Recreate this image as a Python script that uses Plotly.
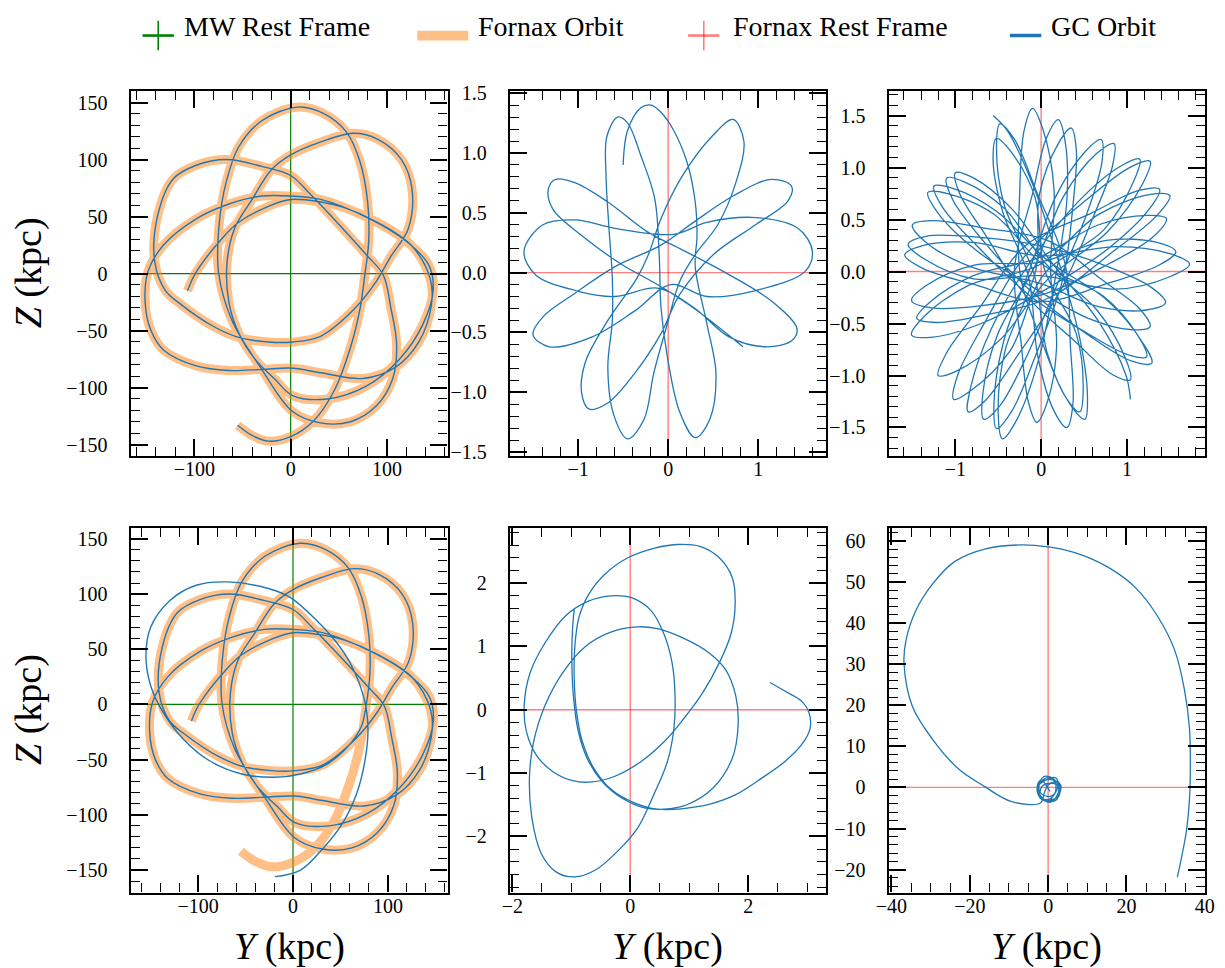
import plotly.graph_objects as go

# ---------------- data ----------------
# Fornax orbit in the MW rest frame (Y, Z) [kpc], traced end to end
FORNAX_Y = [-55, -40, -23, 0, 24, 45, 62, 72, 77, 81, 80, 72, 58, 35, 8,
            -30, -54, -67, -74, -75, -61, -30, 2, 31, 62, 89, 106, 110, 104,
            96, 79, 48, 20, 0, -30, -67, -98, -122, -138, -141,
            -130, -114, -81, -54, -23, 2, 31, 65, 88, 104, 122, 126, 115, 90, 65, 30, 0, -20, -40, -58, -66,
            -64, -54, -37, -16, 2, 38, 78, 112, 137, 148,
            143, 119, 82, 31, 0, -30, -64, -98, -132, -148, -151, -145, -132, -98, -64, -30, 2, 31, 75, 109,
            133, 146,
            145, 125, 90, 55, 30, 0, -23, -54, -71, -99, -107]
FORNAX_Z = [-133, -142, -147, -143, -129, -103, -65, -31, -1, 28, 62, 98, 124, 140, 146,
            134, 111, 80, 45, 2, -41, -84, -121, -131, -130, -116, -92, -62, -30,
            -1, 16, 45, 70, 86, 94, 100, 95, 83, 51, 10,
            -15, -27, -46, -56, -60, -60, -55, -32, -8, 15, 39, 74, 100, 118, 123, 115, 104, 91, 65, 40, 10,
            -26, -52, -75, -93, -107, -110, -99, -76, -45, -14,
            8, 29, 48, 65, 68, 68, 61, 48, 25, 2, -26, -50, -67, -81, -85, -84, -83, -87, -92, -82,
            -60, -28,
            -5, 25, 45, 58, 63, 65, 59, 45, 31, 0, -15]

# GC orbit (top row, MW frame) follows the Fornax orbit
GC1_Y = list(FORNAX_Y)
GC1_Z = list(FORNAX_Z)

# GC orbit (bottom row, MW frame): early part deviates, then follows Fornax
GC2_EARLY_Y = [-19, 8, 30, 52, 67, 76, 79, 75, 60, 45, 25, -3, -26, -68, -102, -130, -150, -155, -150, -137,
               -116, -88, -54, -19, 8, 36, 58, 72]
GC2_EARLY_Z = [-156, -150, -132, -108, -81, -50, -22, 5, 38, 57, 76, 97, 105, 111, 108, 94, 70, 44, 17, -7,
               -31, -51, -63, -66, -63, -54, -38, -20]
GC2_Y = GC2_EARLY_Y + FORNAX_Y[8:]
GC2_Z = GC2_EARLY_Z + FORNAX_Z[8:]

# GC orbit in the Fornax rest frame, top row middle (Y, Z) [kpc]
GCF1_Y = [-0.50, -0.45, -0.30, -0.19, -0.08, 0.06, 0.21, 0.30, 0.32, 0.30, 0.43, 0.53, 0.46, 0.30, 0.13,
          -0.01, -0.08, -0.10, -0.15, -0.30, -0.45, -0.56, -0.68, -0.69, -0.66, -0.62, -0.62, -0.67, -0.60,
          -0.45, -0.27, -0.16, -0.01, 0.13, 0.30, 0.55, 0.75, 0.84, 0.72, 0.50, 0.15, -0.08, -0.22,
          -0.35, -0.67, -0.92, -0.96, -0.88, -0.67, -0.37, -0.08, 0.13,
          0.50, 0.97, 1.33, 1.37, 1.15, 0.72, 0.28, -0.08,
          -0.59, -1.03, -1.39, -1.50, -1.32, -0.85, -0.37, 0.03,
          0.43, 0.97, 1.52, 1.60, 1.44, 0.97, 0.43, 0.06,
          -0.59, -1.03, -1.39, -1.60, -1.47, -1.03, -0.59, -0.12,
          0.28, 0.68, 1.08, 1.37, 1.43, 1.15, 0.61, 0.13,
          -0.23, -0.67, -1.03, -1.25, -1.33, -1.28, -0.96, -0.52, -0.12,
          0.25, 0.55, 0.83]
GCF1_Z = [0.90, 1.19, 1.38, 1.40, 1.34, 1.19, 0.92, 0.59, 0.31, 0.05, -0.43, -0.84, -1.23, -1.38, -1.17,
          -0.70, -0.29, 0.15, 0.62, 0.97, 1.25, 1.30, 1.14, 0.81, 0.40, -0.05, -0.40, -0.80, -1.20,
          -1.39, -1.23, -0.84, -0.43, -0.07, 0.15, 0.40, 0.75, 1.10, 1.28, 1.15, 0.80, 0.45, 0.15,
          -0.05, -0.40, -0.75, -1.01, -1.14, -1.09, -0.84, -0.51, -0.18,
          0.15, 0.40, 0.60, 0.72, 0.78, 0.64, 0.42, 0.23,
          0.05, -0.17, -0.37, -0.52, -0.62, -0.54, -0.32, -0.10,
          -0.20, -0.15, 0.01, 0.18, 0.37, 0.46, 0.42, 0.32,
          0.37, 0.44, 0.40, 0.18, -0.02, -0.15, -0.20, -0.13,
          -0.29, -0.54, -0.62, -0.57, -0.47, -0.24, 0.01, 0.20,
          0.34, 0.59, 0.75, 0.78, 0.70, 0.53, 0.31, 0.07, -0.10,
          -0.28, -0.45, -0.62]

# GC orbit in the Fornax rest frame, top row right (Y, Z) [kpc]
GCF2_Y = [-0.56,
          -0.39, -0.09, 0.21, 0.45, 0.54, 0.51,
          0.34, 0.07, -0.08, -0.43, -0.52, -0.48,
          -0.31, -0.05, 0.28, 0.34, 0.37, 0.30,
          0.15, -0.04, -0.15, -0.45, -0.56, -0.52,
          -0.35, -0.07, 0.04, 0.41, 0.49, 0.45,
          0.28, 0.03, -0.24, -0.25, -0.20, -0.10,
          0.02, 0.15, 0.11, 0.18, 0.07, -0.05,
          -0.15, -0.23, -0.31, -0.10, 0.06, 0.20,
          0.28, 0.30, 0.17, -0.03, -0.28, -0.45,
          -0.50, -0.42, -0.06, -0.02, 0.20, 0.35,
          0.41, 0.37, 0.25, -0.07, -0.34, -0.52,
          -0.55, -0.44, -0.12, 0.17, 0.51, 0.70,
          0.71, 0.53, 0.20, -0.16, -0.48, -0.67,
          -0.68, -0.51, -0.08, 0.26, 0.64, 0.85,
          0.83, 0.60, 0.24, -0.26, -0.65, -0.85,
          -0.82, -0.58, -0.12, 0.43, 0.92, 1.15,
          1.08, 0.73, 0.03, -0.36, -0.81, -1.02,
          -0.97, -0.65, -0.17, 0.50, 1.03, 1.27,
          1.18, 0.77, 0.07, -0.47, -0.97, -1.20,
          -1.10, -0.71, -0.18, 0.58, 1.14, 1.38,
          1.25, 0.78, 0.08, -0.67, -1.26, -1.51,
          -1.36, -0.84, -0.03, 0.67, 1.26, 1.50,
          1.35, 0.82, 0.10, -0.66, -1.22, -1.45,
          -1.29, -0.79, -0.04, 0.67, 1.24, 1.46,
          1.30, 0.78, 0.06, -0.71, -1.28, -1.51,
          -1.33, -0.79, -0.01, 0.76, 1.35, 1.57,
          1.37, 0.79, 0.00, -0.80, -1.38, -1.59,
          -1.38, -0.79, 0.00, 0.88, 1.51, 1.73,
          1.50, 0.86, 0.00, -0.79, -1.36, -1.55,
          -1.33, -0.74, 0.04, 0.77, 1.28, 1.45,
          1.23, 0.68, -0.03, -0.80, -1.34, -1.50,
          -1.27, -0.68, 0.10, 0.71, 1.15, 1.27,
          1.06, 0.55, -0.08, -0.75, -1.20, -1.32,
          -1.09, -0.55, 0.03, 0.73, 1.13, 1.23,
          1.01, 0.51, -0.15, -0.74, -1.15, -1.25,
          -1.03, -0.52, 0.07, 0.76, 1.18, 1.29,
          1.05, 0.53, -0.13, -0.67, -1.03, -1.10,
          -0.89, -0.42, 0.06, 0.65, 0.98, 1.04,
          0.83, 0.38, -0.20, -0.64, -0.95, -1.00,
          -0.79, -0.35, 0.11, 0.67, 0.99, 1.04]
GCF2_Z = [1.50,
          1.35, 0.82, 0.08, -0.64, -1.20, -1.42,
          -1.28, -0.78, -0.03, 0.64, 1.20, 1.42,
          1.27, 0.76, 0.07, -0.70, -1.28, -1.50,
          -1.34, -0.81, -0.04, 0.58, 1.08, 1.28,
          1.15, 0.71, 0.02, -0.60, -1.14, -1.35,
          -1.20, -0.72, -0.05, 0.75, 1.35, 1.57,
          1.37, 0.79, 0.00, -0.73, -1.26, -1.45,
          -1.25, -0.71, 0.03, 0.75, 1.28, 1.46,
          1.25, 0.69, -0.04, -0.85, -1.42, -1.61,
          -1.37, -0.76, 0.02, 0.74, 1.23, 1.38,
          1.17, 0.63, -0.08, -0.82, -1.34, -1.51,
          -1.27, -0.68, 0.05, 0.72, 1.15, 1.27,
          1.06, 0.55, -0.10, -0.80, -1.29, -1.42,
          -1.18, -0.61, 0.04, 0.72, 1.13, 1.23,
          1.01, 0.51, -0.16, -0.79, -1.24, -1.35,
          -1.11, -0.55, 0.10, 0.67, 1.01, 1.08,
          0.87, 0.40, -0.03, -0.76, -1.14, -1.23,
          -0.99, -0.48, 0.17, 0.67, 1.00, 1.06,
          0.84, 0.38, -0.08, -0.65, -0.95, -1.00,
          -0.78, -0.34, 0.25, 0.56, 0.78, 0.79,
          0.59, 0.22, -0.16, -0.49, -0.63, -0.61,
          -0.43, -0.13, 0.06, 0.55, 0.74, 0.73,
          0.54, 0.18, -0.25, -0.42, -0.49, -0.45,
          -0.29, -0.04, 0.13, 0.45, 0.54, 0.51,
          0.33, 0.07, -0.21, -0.33, -0.35, -0.28,
          -0.13, 0.06, 0.09, 0.30, 0.28, 0.19,
          0.06, -0.11, -0.29, -0.12, 0.03, 0.16,
          0.25, 0.28, 0.15, 0.24, 0.17, 0.07,
          -0.05, -0.17, -0.04, -0.07, 0.12, 0.26,
          0.34, 0.33, 0.24, 0.05, -0.15, -0.30,
          -0.37, -0.34, -0.11, 0.04, 0.28, 0.45,
          0.49, 0.42, 0.29, -0.08, -0.36, -0.53,
          -0.56, -0.45, -0.16, 0.20, 0.56, 0.76,
          0.75, 0.55, 0.06, -0.24, -0.62, -0.82,
          -0.80, -0.58, -0.22, 0.24, 0.62, 0.82,
          0.80, 0.58, 0.11, -0.27, -0.68, -0.88,
          -0.86, -0.60, -0.18, 0.29, 0.69, 0.90,
          0.86, 0.60, 0.07, -0.37, -0.83, -1.04,
          -0.99, -0.66, -0.21, 0.34, 0.75, 0.95,
          0.90, 0.61, 0.10, -0.48, -1.00, -1.23]

# GC orbit in the Fornax rest frame, bottom row middle (Y, Z) [kpc]
GCF3_Y = [-0.95, -0.98, -0.99, -0.96, -0.88, -0.73, -0.48, -0.15, 0.24, 0.57, 0.96, 1.40, 1.73, 1.83,
          1.79, 1.62, 1.35, 0.90, 0.46, 0.13, -0.32, -0.76, -1.15, -1.45, -1.64, -1.71, -1.67, -1.51,
          -1.26, -0.95, -0.59, -0.20, 0.13, 0.40, 0.63, 0.74, 0.76, 0.71, 0.57, 0.35, 0.02, -0.32,
          -0.70, -1.09, -1.45, -1.70, -1.80, -1.76, -1.59, -1.31, -0.98, -0.65, -0.26, 0.18, 0.57,
          0.90, 1.23, 1.51, 1.71, 1.78, 1.73, 1.51, 1.18, 0.79, 0.40, -0.04, -0.43, -0.70, -0.87,
          -0.94, -0.95, -0.91, -0.81, -0.62, -0.32, 0.07, 0.46, 0.90, 1.35, 1.79, 2.23, 2.62, 2.90,
          3.05, 3.03, 2.90, 2.67, 2.37]
GCF3_Z = [1.59, 1.26, 0.74, 0.17, -0.35, -0.77, -1.13, -1.39, -1.55, -1.57, -1.50, -1.24, -0.77, -0.25,
          0.22, 0.63, 0.89, 1.13, 1.28, 1.31, 1.23, 1.00, 0.58, 0.06, -0.51, -1.08, -1.70, -2.27,
          -2.56, -2.64, -2.53, -2.22, -1.86, -1.34, -0.82, -0.30, 0.22, 0.74, 1.20, 1.57, 1.77, 1.80,
          1.72, 1.49, 1.05, 0.58, 0.06, -0.35, -0.72, -0.98, -1.12, -1.14, -1.05, -0.82, -0.51,
          -0.15, 0.27, 0.74, 1.20, 1.67, 2.09, 2.40, 2.58, 2.61, 2.55, 2.40, 2.14, 1.83, 1.46,
          1.00, 0.48, -0.04, -0.51, -0.92, -1.26, -1.47, -1.57, -1.56, -1.49, -1.34, -1.08, -0.82, -0.56,
          -0.30, -0.04, 0.14, 0.27, 0.43]

# GC orbit in the Fornax rest frame, bottom row right (Y, Z) [kpc]
GCF4_Y = [0.5, -1.8, -2.8, -1.2, 1.8, 3.0, 1.2, -1.2, -2.6, -0.4, 2.3, 3.2, 0.8, -2.0, -2.4, 0.6,
          2.6, 2.0, -0.6, -2.8, -1.6, 0.8, 2.4, 1.0, -1.4, -2.0, -0.2, 1.6, 1.8, -0.2, -2.2, -1.8,
          0.2, 2.8, 2.6, 0.0, -1.0, -2.0,
          -9.5, -16.2, -23.0, -29.6, -34.7, -36.8, -36.3, -33.8, -29.6, -23.8, -16.2, -7.0, 0.0, 7.2,
          15.6, 22.3, 28.1, 32.3, 34.8, 36.1, 36.3, 36.1, 35.3, 33.0]
GCF4_Z = [-1.0, 1.8, 0.2, -2.8, -3.2, -0.8, 2.2, 2.6, -0.6, -3.3, -2.4, 0.6, 1.9, 1.2, -2.0, -3.6,
          -1.2, 2.3, 1.8, -0.2, -3.0, -2.6, 0.4, 1.0, 0.4, -1.2, -2.2, -1.6, 1.2, 2.4, 0.8, -2.4,
          -3.0, -2.0, 1.4, 0.6, -1.4, -3.8,
          -3.4, 0.2, 4.6, 11.8, 19.8, 30.2, 35.8, 43.0, 49.4, 55.0, 58.0, 59.0, 58.5, 57.0,
          53.4, 48.6, 41.4, 33.4, 23.8, 14.2, 3.8, -2.6, -10.6, -21.8]

# axis ranges / ticks per panel: (xrange, yrange, xdtick, xminor, ydtick, yminor, yfmt)
PANELS = [
    ([-166, 163], [-160, 160], 100, 20, 50, 10, None),
    ([-1.756, 1.751], [-1.533, 1.517], 1, 0.2, 0.5, 0.1, ".1f"),
    ([-1.776, 1.912], [-1.774, 1.735], 1, 0.2, 0.5, 0.1, ".1f"),
    ([-171, 163], [-170.5, 159.6], 100, 20, 50, 10, None),
    ([-2.04, 3.32], [-2.888, 2.866], 2, 0.5, 1, 0.2, None),
    ([-40.7, 40.1], [-25.6, 63.05], 20, 5, 10, 2, None),
]
ORIGIN = 0.0

LEGEND_LABELS = ["MW Rest Frame", "Fornax Orbit", "Fornax Rest Frame", "GC Orbit"]

# ---------------- styling ----------------
W, H = 1225, 968
FONT = "Liberation Serif"
BLUE = "#1f77b4"
ORANGE = "rgba(255,127,14,0.5)"
GREEN = "green"
RED = "rgba(255,0,0,0.5)"

X_DOM = [(120, 443), (506.5, 828.5), (892.5, 1215)]
Y_DOM = [(83.5, 454.5), (528, 898.5)]

fig = go.Figure()

layout = dict(width=W, height=H, margin=dict(l=0, r=0, t=0, b=0), autosize=False,
              paper_bgcolor="white", plot_bgcolor="white", showlegend=False)

for i, (xr, yr, xd, xm, yd, ym, yf) in enumerate(PANELS):
    row, col = divmod(i, 3)
    n = "" if i == 0 else str(i + 1)
    xa = dict(domain=[X_DOM[col][0] / W, X_DOM[col][1] / W], anchor="y" + n, range=xr,
              tick0=0, dtick=xd, ticks="inside", ticklen=17, tickwidth=2, tickcolor="black",
              minor=dict(dtick=xm, tick0=0, ticks="inside", ticklen=9, tickwidth=1.4, tickcolor="black"),
              showline=True, linewidth=2.4, linecolor="black", mirror="allticks",
              showgrid=False, zeroline=False, ticklabelstandoff=-6,
              tickfont=dict(family=FONT, size=20, color="black"))
    ya = dict(domain=[1 - Y_DOM[row][1] / H, 1 - Y_DOM[row][0] / H], anchor="x" + n, range=yr,
              tick0=0, dtick=yd, ticks="inside", ticklen=17, tickwidth=2, tickcolor="black",
              minor=dict(dtick=ym, tick0=0, ticks="inside", ticklen=9, tickwidth=1.4, tickcolor="black"),
              showline=True, linewidth=2.4, linecolor="black", mirror="allticks",
              showgrid=False, zeroline=False, ticklabelstandoff=17,
              tickfont=dict(family=FONT, size=20, color="black"))
    if yf:
        ya["tickformat"] = yf
    layout["xaxis" + n] = xa
    layout["yaxis" + n] = ya

fig.update_layout(**layout)


def axref(i):
    n = "" if i == 0 else str(i + 1)
    return "x" + n, "y" + n


def ref_lines(i, color, width):
    xr, yr = PANELS[i][0], PANELS[i][1]
    xa, ya = axref(i)
    fig.add_trace(go.Scatter(x=[ORIGIN, ORIGIN], y=yr, mode="lines", line=dict(color=color, width=width),
                             xaxis=xa, yaxis=ya, hoverinfo="skip"))
    fig.add_trace(go.Scatter(x=xr, y=[ORIGIN, ORIGIN], mode="lines", line=dict(color=color, width=width),
                             xaxis=xa, yaxis=ya, hoverinfo="skip"))


def orbit(i, xs, ys, color, width):
    xa, ya = axref(i)
    fig.add_trace(go.Scatter(x=xs, y=ys, mode="lines", line=dict(color=color, width=width, shape="spline",
                                                                  smoothing=1.0),
                             xaxis=xa, yaxis=ya, hoverinfo="skip"))


# top row
ref_lines(0, GREEN, 1.2)
orbit(0, FORNAX_Y, FORNAX_Z, ORANGE, 9)
orbit(0, GC1_Y, GC1_Z, BLUE, 1.4)
ref_lines(1, RED, 1.4)
orbit(1, GCF1_Y, GCF1_Z, BLUE, 1.3)
ref_lines(2, RED, 1.4)
orbit(2, GCF2_Y, GCF2_Z, BLUE, 1.3)
# bottom row
ref_lines(3, GREEN, 1.2)
orbit(3, FORNAX_Y, FORNAX_Z, ORANGE, 9)
orbit(3, GC2_Y, GC2_Z, BLUE, 1.4)
ref_lines(4, RED, 1.4)
orbit(4, GCF3_Y, GCF3_Z, BLUE, 1.3)
ref_lines(5, RED, 1.4)
orbit(5, GCF4_Y, GCF4_Z, BLUE, 1.3)

# ---------------- legend (drawn manually at the top) ----------------
def px(x):
    return x / W


def py(y):
    return 1 - y / H


shapes = []
ann = []
LEG_Y = 27
shapes.append(dict(type="line", xref="paper", yref="paper", x0=px(132), x1=px(164), y0=py(LEG_Y), y1=py(LEG_Y),
                   line=dict(color=GREEN, width=2.6)))
shapes.append(dict(type="line", xref="paper", yref="paper", x0=px(148), x1=px(148), y0=py(12), y1=py(42),
                   line=dict(color=GREEN, width=1.6)))
shapes.append(dict(type="rect", xref="paper", yref="paper", x0=px(412), x1=px(464), y0=py(22), y1=py(32),
                   line=dict(width=0), fillcolor=ORANGE))
shapes.append(dict(type="line", xref="paper", yref="paper", x0=px(688), x1=px(720), y0=py(LEG_Y), y1=py(LEG_Y),
                   line=dict(color=RED, width=2.6)))
shapes.append(dict(type="line", xref="paper", yref="paper", x0=px(704), x1=px(704), y0=py(12), y1=py(42),
                   line=dict(color=RED, width=1.6)))
shapes.append(dict(type="line", xref="paper", yref="paper", x0=px(1016), x1=px(1048), y0=py(LEG_Y),
                   y1=py(LEG_Y), line=dict(color=BLUE, width=3.5)))

for lab, x in zip(LEGEND_LABELS, [172, 472, 732, 1056]):
    ann.append(dict(text=lab, xref="paper", yref="paper", x=px(x), y=py(18), xanchor="left",
                    yanchor="middle", showarrow=False, font=dict(family=FONT, size=28, color="black")))

for yc in [268, 712]:
    ann.append(dict(text="<i>Z</i> (kpc)", xref="paper", yref="paper", x=px(16), y=py(yc), xanchor="center",
                    yanchor="middle", textangle=-90, showarrow=False,
                    font=dict(family=FONT, size=38, color="black")))
for xc in [281.5, 667.5, 1053.75]:
    ann.append(dict(text="<i>Y</i> (kpc)", xref="paper", yref="paper", x=px(xc), y=py(953), xanchor="center",
                    yanchor="middle", showarrow=False, font=dict(family=FONT, size=38, color="black")))

fig.update_layout(shapes=shapes, annotations=ann)
fig.write_html("out.html")
